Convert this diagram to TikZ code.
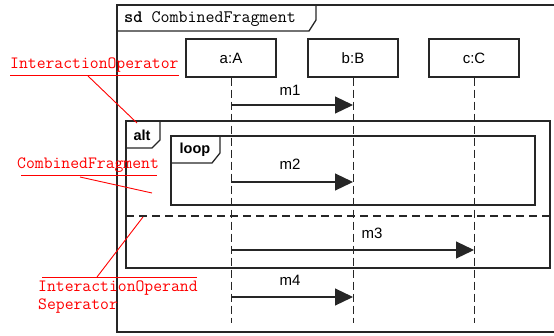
\documentclass[tikz,border=0pt]{standalone}
\usepackage{fontspec}
\newfontfamily\uisans{Liberation Sans}
\usetikzlibrary{arrows.meta}
\tikzset{
  frameline/.style={draw=black!85, line width=1.3pt},
  lifebox/.style={draw=black!85, line width=1.2pt, minimum width=90pt, minimum height=38pt, font=\uisans\fontsize{15}{17}\selectfont, inner sep=0pt},
  lifeline/.style={draw=black!85, line width=1pt, dash pattern=on 8pt off 4pt},
  msg/.style={draw=black!85, line width=1.2pt, -{Triangle[length=18pt,width=17pt]}},
  msglabel/.style={font=\uisans\fontsize{15}{17}\selectfont, inner sep=0pt},
  taglabel/.style={font=\uisans\bfseries\fontsize{14.5}{17}\selectfont, inner sep=0pt},
  note/.style={text=red, font=\ttfamily\fontsize{17.2}{20}\selectfont, inner sep=0pt},
  noteline/.style={draw=red, line width=0.9pt},
}
\begin{document}
\begin{tikzpicture}[x=1pt,y=-1pt]
\useasboundingbox (0,0) rectangle (554,335);

% diagram frame (its right side runs past the page edge) with its name tab
\draw[frameline] (560,5) -- (117,5) -- (117,332) -- (560,332);
\draw[frameline] (117,31) -- (309,31) -- (316,20) -- (316,5);
\node[anchor=west, inner sep=0pt, font=\ttfamily\fontsize{17.5}{20}\selectfont] (title) at (124,19)
  {\textbf{sd} CombinedFragment};

% lifelines
\node[lifebox] (a) at (231,58) {a:A};
\node[lifebox] (b) at (353,58) {b:B};
\node[lifebox] (c) at (474,58) {c:C};
\coordinate (aend) at (231,323);
\coordinate (bend) at (353,323);
\coordinate (cend) at (474,323);
\draw[lifeline] (a.south) -- (aend);
\draw[lifeline] (b.south) -- (bend);
\draw[lifeline] (c.south) -- (cend);

% alt fragment
\draw[frameline] (126,121) rectangle (550,268);
\draw[frameline] (126,148) -- (152,148) -- (160,140) -- (160,121);
\node[taglabel] (alt) at (142,135) {alt};
\draw[frameline, dash pattern=on 8pt off 5pt, line width=1.1pt] (126,216) -- (550,216);

% loop fragment
\draw[frameline] (171,136) rectangle (535,205);
\draw[frameline] (171,163) -- (212,163) -- (220,153) -- (220,136);
\node[taglabel] (loop) at (195,150) {loop};

% messages
\coordinate (m1s) at (231,105); \coordinate (m1e) at (353,105);
\coordinate (m2s) at (231,182); \coordinate (m2e) at (353,182);
\coordinate (m3s) at (231,250); \coordinate (m3e) at (474,250);
\coordinate (m4s) at (231,297); \coordinate (m4e) at (353,297);
\draw[msg] (m1s) -- (m1e);
\draw[msg] (m2s) -- (m2e);
\draw[msg] (m3s) -- (m3e);
\draw[msg] (m4s) -- (m4e);
\node[msglabel] (l1) at (290,90) {m1};
\node[msglabel] (l2) at (290,164) {m2};
\node[msglabel] (l3) at (372,233) {m3};
\node[msglabel] (l4) at (290,280) {m4};

% annotations
\node[note, anchor=west] (n1) at (10,65) {InteractionOperator};
\draw[noteline] (10,75) -- (179,75);
\coordinate (n1a) at (88,76); \coordinate (n1b) at (137,123);
\draw[noteline] (n1a) -- (n1b);

\node[note, anchor=west] (n2) at (17,165) {CombinedFragment};
\draw[noteline] (21,175) -- (157,175);
\coordinate (n2a) at (80,177); \coordinate (n2b) at (152,193);
\draw[noteline] (n2a) -- (n2b);

\draw[noteline] (42,277) -- (197,277);
\node[note, anchor=west] (n3) at (38,288) {InteractionOperand};
\node[note, anchor=west] (n3b) at (38,306) {Seperator};
\coordinate (n3a) at (97,277); \coordinate (n3c) at (143,217);
\draw[noteline] (n3a) -- (n3c);
\end{tikzpicture}
\end{document}
